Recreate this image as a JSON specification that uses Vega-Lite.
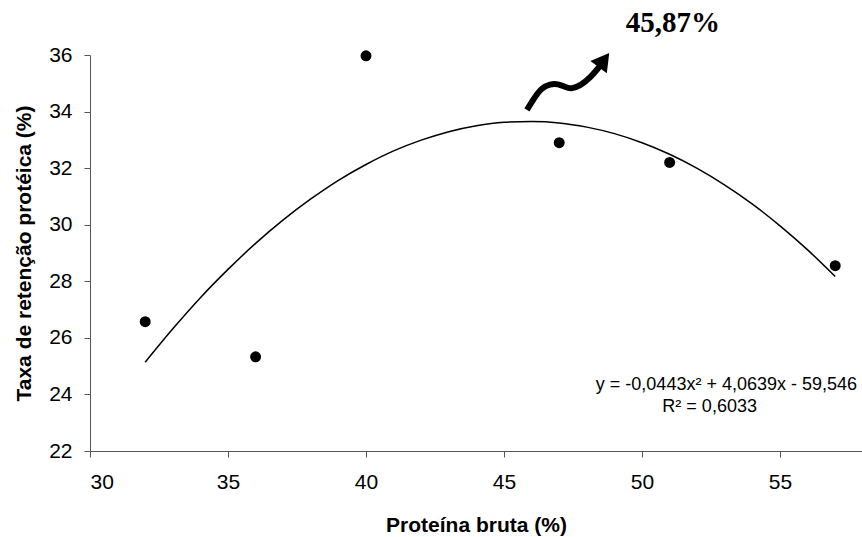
{
  "$schema": "https://vega.github.io/schema/vega-lite/v6.json",
  "width": 772,
  "height": 396,
  "autosize": {"type": "none"},
  "padding": {"left": 90, "top": 55, "right": 0, "bottom": 86},
  "background": "white",
  "config": {"view": {"stroke": null}, "font": "Liberation Sans"},
  "datasets": {
    "points": [
      {"x": 32, "y": 26.57},
      {"x": 36, "y": 25.33},
      {"x": 40, "y": 35.97},
      {"x": 47, "y": 32.9},
      {"x": 51, "y": 32.2},
      {"x": 57, "y": 28.55}
    ],
    "curve": [
      {"x": 32, "y": 25.14}, {"x": 33, "y": 26.32}, {"x": 34, "y": 27.42}, {"x": 35, "y": 28.42},
      {"x": 36, "y": 29.34}, {"x": 37, "y": 30.17}, {"x": 38, "y": 30.91}, {"x": 39, "y": 31.57},
      {"x": 40, "y": 32.13}, {"x": 41, "y": 32.61}, {"x": 42, "y": 32.99}, {"x": 43, "y": 33.29},
      {"x": 44, "y": 33.5}, {"x": 45, "y": 33.62}, {"x": 46, "y": 33.65}, {"x": 47, "y": 33.6},
      {"x": 48, "y": 33.45}, {"x": 49, "y": 33.22}, {"x": 50, "y": 32.9}, {"x": 51, "y": 32.49},
      {"x": 52, "y": 31.99}, {"x": 53, "y": 31.4}, {"x": 54, "y": 30.73}, {"x": 55, "y": 29.96},
      {"x": 56, "y": 29.11}, {"x": 57, "y": 28.17}
    ],
    "arrow": [
      {"x": 45.83, "y": 34.06}, {"x": 46.05, "y": 34.41}, {"x": 46.34, "y": 34.83},
      {"x": 46.67, "y": 34.98}, {"x": 46.96, "y": 34.98}, {"x": 47.21, "y": 34.87},
      {"x": 47.43, "y": 34.8}, {"x": 47.75, "y": 34.9}, {"x": 48.12, "y": 35.19},
      {"x": 48.45, "y": 35.58}
    ],
    "head": [{"x": 48.62, "y": 35.82}],
    "labels": [
      {"x": 51.12, "y": 37.13, "text": "45,87%"}
    ],
    "eq": [
      {"x": 57.79, "y": 24.34, "text": "y = -0,0443x² + 4,0639x - 59,546"}
    ],
    "r2": [
      {"x": 52.45, "y": 23.56, "text": "R² = 0,6033"}
    ]
  },
  "layer": [
    {
      "data": {"name": "curve"},
      "mark": {"type": "line", "color": "black", "strokeWidth": 1.5, "interpolate": "monotone"},
      "encoding": {
        "x": {
          "field": "x", "type": "quantitative",
          "scale": {"domain": [30, 57.97], "nice": false, "zero": false},
          "axis": {
            "values": [30, 35, 40, 45, 50, 55],
            "title": "Proteína bruta (%)",
            "grid": false,
            "domainColor": "#555", "tickColor": "#555", "tickSize": 6,
            "labelFontSize": 21, "labelColor": "black", "labelPadding": 14,
            "titleFontSize": 21, "titleFontWeight": "bold", "titleColor": "black",
            "titleX": 386, "titleY": 74, "titleBaseline": "middle", "titleAlign": "center"
          }
        },
        "y": {
          "field": "y", "type": "quantitative",
          "scale": {"domain": [22, 36], "nice": false, "zero": false},
          "axis": {
            "values": [22, 24, 26, 28, 30, 32, 34, 36],
            "title": "Taxa de retenção protéica (%)",
            "grid": false,
            "domainColor": "#555", "tickColor": "#555", "tickSize": 6,
            "labelFontSize": 21, "labelColor": "black", "labelPadding": 12,
            "titleFontSize": 21, "titleFontWeight": "bold", "titleColor": "black",
            "titleX": -66, "titleY": 198, "titleBaseline": "middle", "titleAlign": "center"
          }
        }
      }
    },
    {
      "data": {"name": "points"},
      "mark": {"type": "point", "filled": true, "color": "black", "size": 120, "opacity": 1},
      "encoding": {
        "x": {"field": "x", "type": "quantitative"},
        "y": {"field": "y", "type": "quantitative"}
      }
    },
    {
      "data": {"name": "arrow"},
      "mark": {"type": "line", "color": "black", "strokeWidth": 6, "interpolate": "basis", "clip": false},
      "encoding": {
        "x": {"field": "x", "type": "quantitative"},
        "y": {"field": "y", "type": "quantitative"}
      }
    },
    {
      "data": {"name": "head"},
      "mark": {"type": "point", "shape": "triangle-up", "filled": true, "color": "black", "size": 420, "angle": 37, "opacity": 1, "clip": false},
      "encoding": {
        "x": {"field": "x", "type": "quantitative"},
        "y": {"field": "y", "type": "quantitative"}
      }
    },
    {
      "data": {"name": "labels"},
      "mark": {"type": "text", "font": "Liberation Serif", "fontWeight": "bold", "fontSize": 29, "color": "black", "clip": false},
      "encoding": {
        "x": {"field": "x", "type": "quantitative"},
        "y": {"field": "y", "type": "quantitative"},
        "text": {"field": "text"}
      }
    },
    {
      "data": {"name": "eq"},
      "mark": {"type": "text", "fontSize": 18, "color": "black", "align": "right", "baseline": "middle"},
      "encoding": {
        "x": {"field": "x", "type": "quantitative"},
        "y": {"field": "y", "type": "quantitative"},
        "text": {"field": "text"}
      }
    },
    {
      "data": {"name": "r2"},
      "mark": {"type": "text", "fontSize": 18, "color": "black", "align": "center", "baseline": "middle"},
      "encoding": {
        "x": {"field": "x", "type": "quantitative"},
        "y": {"field": "y", "type": "quantitative"},
        "text": {"field": "text"}
      }
    }
  ]
}
